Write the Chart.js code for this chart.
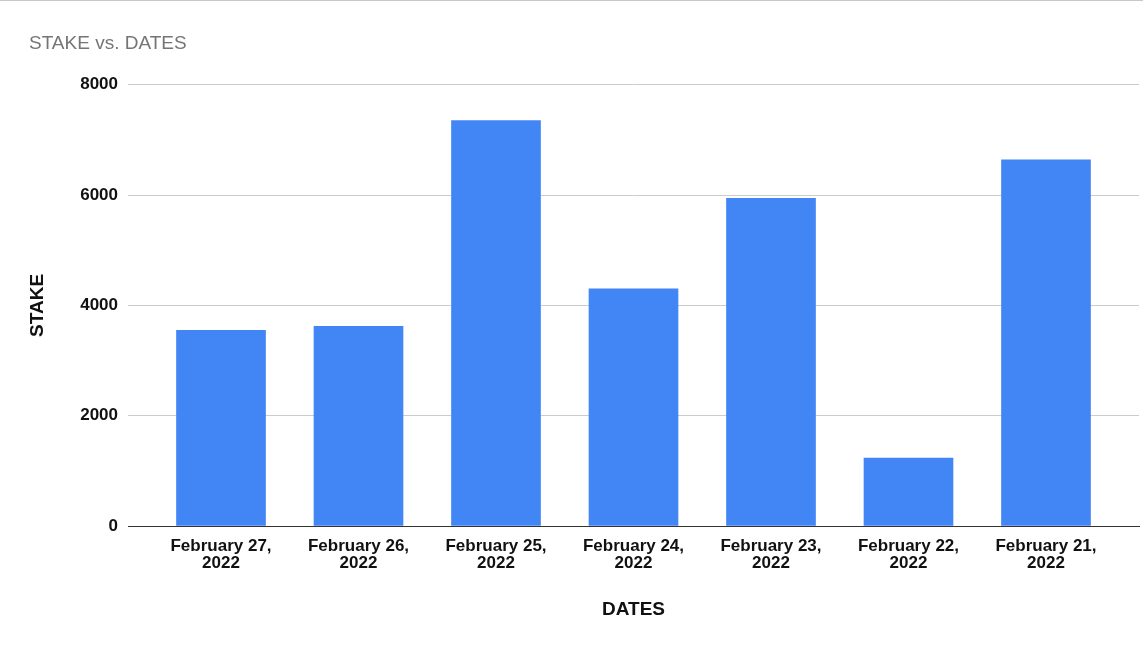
<!DOCTYPE html>
<html>
<head>
<meta charset="utf-8">
<script src="https://cdn.jsdelivr.net/npm/chart.js@4.4.0/dist/chart.umd.min.js"></script>
<style>
    html, body { margin: 0; padding: 0; background: #fff; }
    .wrap { width: 1143px; height: 650px; border-top: 1px solid #c8c8c8; }
</style>
</head>
<body>
<div class="wrap"><canvas id="chart" width="1143" height="650"></canvas></div>
<script>
// Chart data
const dates = [
    'February 27, 2022',
    'February 26, 2022',
    'February 25, 2022',
    'February 24, 2022',
    'February 23, 2022',
    'February 22, 2022',
    'February 21, 2022'
];
const stake = [3550, 3620, 7350, 4300, 5940, 1230, 6640];
const stakeTicks = [0, 2000, 4000, 6000, 8000];

const fontFamily = '"Liberation Sans", Arial, sans-serif';

// bars sit on a linear x axis so the plot can keep some room on both sides
let points = stake.map((v, i) => ({ x: i, y: v }));

new Chart(document.getElementById('chart'), {
    type: 'bar',
    data: {
        datasets: [{
            label: 'STAKE',
            data: points,
            backgroundColor: '#4285F4',
            barThickness: 89
        }]
    },
    options: {
        responsive: false,
        animation: false,
        layout: { padding: { left: 29, right: 4, top: 0, bottom: 0 } },
        plugins: {
            legend: { display: false },
            tooltip: { enabled: false },
            title: {
                display: true,
                text: 'STAKE vs. DATES',
                align: 'start',
                color: '#757575',
                font: { family: fontFamily, size: 19, weight: 'normal' },
                padding: { top: 31, bottom: 30 }
            }
        },
        scales: {
            x: {
                type: 'linear',
                offset: false,
                min: -0.6764,
                max: dates.length - 1 + 0.6764,
                afterBuildTicks: scale => {
                    scale.ticks = dates.map((d, i) => ({ value: i }));
                },
                afterFit: scale => { scale.height = 125; },
                grid: { display: false, drawTicks: false },
                border: { display: true, color: '#333', width: 1 },
                ticks: {
                    autoSkip: false,
                    maxRotation: 0,
                    padding: 12,
                    color: '#111',
                    font: { family: fontFamily, size: 17, weight: 'bold', lineHeight: 0.98 },
                    callback: value => {
                        let label = dates[value];
                        if (!label) return '';
                        let cut = label.lastIndexOf(' ');
                        return [label.slice(0, cut), label.slice(cut + 1)];
                    }
                },
                title: {
                    display: true,
                    text: 'DATES',
                    color: '#111',
                    font: { family: fontFamily, size: 19, weight: 'bold' },
                    padding: { top: 0, bottom: 30 }
                }
            },
            y: {
                min: 0,
                max: stakeTicks[stakeTicks.length - 1],
                afterBuildTicks: scale => {
                    scale.ticks = stakeTicks.map(v => ({ value: v }));
                },
                afterFit: scale => { scale.width = 99; },
                grid: {
                    drawTicks: false,
                    color: ctx => ctx.tick && ctx.tick.value === 0 ? '#333' : '#cccccc',
                    lineWidth: 1
                },
                border: { display: false },
                ticks: {
                    padding: 10,
                    color: '#111',
                    font: { family: fontFamily, size: 17, weight: 'bold' },
                    callback: value => String(value)
                },
                title: {
                    display: true,
                    text: 'STAKE',
                    color: '#111',
                    font: { family: fontFamily, size: 19, weight: 'bold' },
                    padding: { top: -3, bottom: 0 }
                }
            }
        }
    }
});
</script>
</body>
</html>
